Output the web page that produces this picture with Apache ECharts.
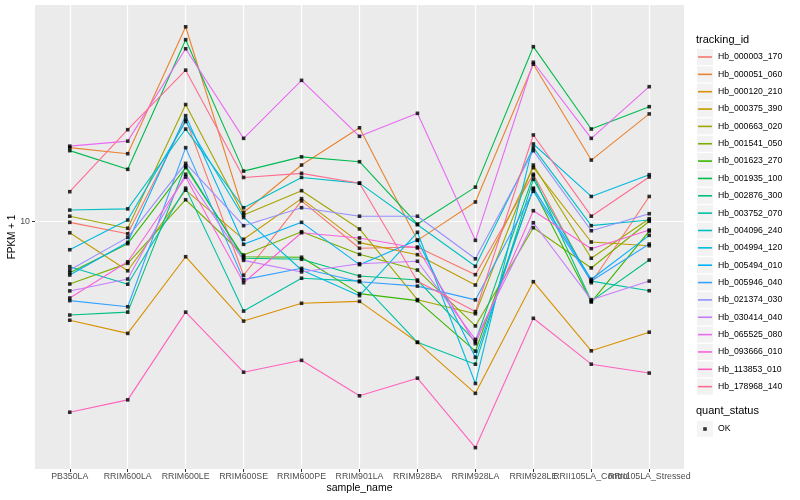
<!DOCTYPE html>
<html>
<head>
<meta charset="utf-8">
<script src="https://cdn.jsdelivr.net/npm/echarts@6/dist/echarts.min.js"></script>
<style>
html,body{margin:0;padding:0;background:#fff;}
#chart{width:800px;height:500px;}
</style>
</head>
<body>
<div id="chart"></div>
<script>
// ---- data (FPKM + 1, log10 axis) ----
const categories = ['PB350LA','RRIM600LA','RRIM600LE','RRIM600SE','RRIM600PE','RRIM901LA','RRIM928BA','RRIM928LA','RRIM928LE','RRII105LA_Control','RRII105LA_Stressed'];
const trackingIds = ['Hb_000003_170','Hb_000051_060','Hb_000120_210','Hb_000375_390','Hb_000663_020','Hb_001541_050','Hb_001623_270','Hb_001935_100','Hb_002876_300','Hb_003752_070','Hb_004096_240','Hb_004994_120','Hb_005494_010','Hb_005946_040','Hb_021374_030','Hb_030414_040','Hb_065525_080','Hb_093666_010','Hb_113853_010','Hb_178968_140'];
const lineColors = ['#F8766D','#EA8331','#D89000','#C09B00','#A3A500','#7CAE00','#39B600','#00BB4E','#00BF7D','#00C1A3','#00BFC4','#00BAE0','#00B0F6','#35A2FF','#9590FF','#C77CFF','#E76BF3','#FA62DB','#FF62BC','#FF6C91'];
const yTickValues = [10];
const quantStatus = ['OK'];

const Hb_000003_170 = [9.92, 9.09, 21.9, 6.61, 11.7, 8.13, 8.21, 6.64, 14.35, 6.24, 12.1];
const Hb_000051_060 = [17.6, 16.8, 44.5, 10.7, 15.4, 20.5, 8.64, 11.6, 33.4, 16.0, 22.8];
const Hb_000120_210 = [4.68, 4.23, 7.62, 4.65, 5.33, 5.41, 3.95, 2.67, 6.29, 3.70, 4.27];
const Hb_000375_390 = [9.16, 6.84, 12.7, 8.71, 11.9, 8.49, 7.74, 6.13, 15.1, 8.53, 8.29];
const Hb_000663_020 = [10.4, 9.48, 24.5, 10.5, 12.65, 9.43, 5.48, 4.92, 15.4, 7.53, 10.2];
const Hb_001541_050 = [6.18, 7.24, 11.8, 7.72, 9.23, 7.76, 6.88, 4.48, 9.52, 6.99, 10.0];
const Hb_001623_270 = [6.74, 8.42, 15.1, 7.62, 7.59, 5.74, 5.44, 3.69, 12.8, 5.38, 9.28];
const Hb_001935_100 = [17.2, 14.9, 40.3, 14.7, 16.4, 15.8, 9.79, 13.0, 38.2, 20.3, 24.1];
const Hb_002876_300 = [4.87, 4.98, 15.3, 7.53, 7.47, 6.57, 6.37, 3.97, 14.2, 5.42, 7.43];
const Hb_003752_070 = [7.06, 6.17, 12.9, 5.02, 6.46, 6.32, 3.95, 3.34, 13.8, 6.32, 5.87];
const Hb_004096_240 = [10.9, 11.0, 20.3, 11.1, 14.0, 13.4, 9.74, 7.08, 17.6, 9.67, 10.1];
const Hb_004994_120 = [8.04, 10.1, 21.5, 10.3, 6.88, 5.65, 9.19, 2.88, 18.1, 12.1, 14.3];
const Hb_005494_010 = [6.62, 8.51, 22.5, 8.38, 9.92, 7.17, 8.66, 3.52, 12.9, 6.41, 8.98];
const Hb_005946_040 = [5.44, 5.19, 17.6, 6.39, 6.97, 6.29, 6.08, 5.47, 12.6, 6.32, 8.40];
const Hb_021374_030 = [6.88, 8.84, 15.6, 9.67, 11.1, 10.4, 10.4, 7.50, 17.2, 9.30, 10.6];
const Hb_030414_040 = [5.86, 6.42, 14.35, 7.41, 6.78, 7.22, 7.36, 4.04, 9.89, 5.48, 6.32];
const Hb_065525_080 = [17.8, 18.5, 37.6, 18.9, 29.5, 19.2, 22.9, 8.64, 33.9, 18.9, 28.1];
const Hb_093666_010 = [5.55, 7.33, 14.05, 6.24, 9.16, 8.80, 8.15, 3.91, 10.85, 8.10, 9.35];
const Hb_113853_010 = [2.31, 2.54, 4.98, 3.14, 3.44, 2.62, 3.00, 1.76, 4.75, 3.34, 3.12];
const Hb_178968_140 = [12.55, 20.2, 31.9, 14.0, 14.45, 13.4, 6.31, 5.0, 19.4, 10.4, 14.05];

const seriesValues = [Hb_000003_170, Hb_000051_060, Hb_000120_210, Hb_000375_390, Hb_000663_020, Hb_001541_050, Hb_001623_270, Hb_001935_100, Hb_002876_300, Hb_003752_070, Hb_004096_240, Hb_004994_120, Hb_005494_010, Hb_005946_040, Hb_021374_030, Hb_030414_040, Hb_065525_080, Hb_093666_010, Hb_113853_010, Hb_178968_140];

// ---- chart ----
const FONT = "'Liberation Sans', Arial, Helvetica, sans-serif";
const catIndex = categories.map((c, i) => i + 1);
// labels are split over two axes so overlapping neighbours are all drawn (as in the reference)
const labelSetA = catIndex.filter((v, i) => i % 2 === 0);
const labelSetB = catIndex.filter((v, i) => i % 2 === 1);

const lineSeries = trackingIds.map((id, k) => ({
  type: 'line',
  name: id,
  color: lineColors[k],
  data: seriesValues[k].map((v, i) => [catIndex[i], v]),
  symbol: 'none',
  showSymbol: false,
  lineStyle: { width: 1.1, color: lineColors[k] },
  silent: true,
  z: 2
}));

const pointData = [];
seriesValues.forEach(arr => arr.forEach((v, i) => pointData.push([catIndex[i], v])));

const pointSeries = {
  type: 'scatter',
  name: quantStatus[0],
  data: pointData,
  symbol: 'rect',
  symbolSize: 3.6,
  itemStyle: { color: '#000000' },
  silent: true,
  z: 4
};

const lineIcon = 'path://M0,0L0,0M0,16L0,16M0,7.2L14,7.2L14,8.8L0,8.8Z';
const dotIcon = 'path://M0,0L0,0M16,16L16,16M6.2,6.2L9.8,6.2L9.8,9.8L6.2,9.8Z';

const xLabelStyle = {
  formatter: v => categories[Math.round(v) - 1] || '',
  hideOverlap: false,
  fontFamily: FONT, fontSize: 8.8, color: '#4D4D4D', margin: 3
};

const chart = echarts.init(document.getElementById('chart'), null, { renderer: 'canvas' });
chart.setOption({
  animation: false,
  backgroundColor: '#ffffff',
  textStyle: { fontFamily: FONT },
  title: [
    { text: 'tracking_id', left: 696, top: 34, padding: 0,
      textStyle: { fontFamily: FONT, fontSize: 11, fontWeight: 'normal', color: '#000000' } },
    { text: 'quant_status', left: 696, top: 405, padding: 0,
      textStyle: { fontFamily: FONT, fontSize: 11, fontWeight: 'normal', color: '#000000' } }
  ],
  legend: [
    { // grey key boxes + labels
      data: trackingIds, orient: 'vertical', left: 697, top: 49, padding: 0,
      itemWidth: 16, itemHeight: 16, itemGap: 1.35, icon: 'rect',
      itemStyle: { color: '#F2F2F2', borderWidth: 0 },
      selectedMode: false, z: 3,
      textStyle: { fontFamily: FONT, fontSize: 8.7, color: '#000000' }
    },
    { // coloured line inside each key
      data: trackingIds, orient: 'vertical', left: 698, top: 49, padding: 0,
      itemWidth: 14, itemHeight: 16, itemGap: 1.35, icon: lineIcon,
      selectedMode: false, z: 4, formatter: () => '',
      textStyle: { fontSize: 8 }
    },
    { // quant_status grey box + label
      data: quantStatus, orient: 'vertical', left: 697, top: 421, padding: 0,
      itemWidth: 16, itemHeight: 16, icon: 'rect',
      itemStyle: { color: '#F2F2F2', borderWidth: 0 },
      selectedMode: false, z: 3,
      textStyle: { fontFamily: FONT, fontSize: 8.7, color: '#000000' }
    },
    { // black point inside key
      data: quantStatus, orient: 'vertical', left: 697, top: 421, padding: 0,
      itemWidth: 16, itemHeight: 16, icon: dotIcon,
      selectedMode: false, z: 4, formatter: () => '',
      textStyle: { fontSize: 8 }
    }
  ],
  grid: {
    left: 35, right: 116, top: 5, bottom: 31,
    show: true, backgroundColor: '#EBEBEB', borderWidth: 0,
    containLabel: false,
    outerBoundsMode: 'none'
  },
  xAxis: [
    {
      type: 'value', position: 'bottom',
      min: 0.4, max: 11.6,
      axisLine: { show: false },
      axisTick: { show: true, customValues: catIndex, length: 3, lineStyle: { color: '#333333', width: 1 } },
      axisLabel: Object.assign({ customValues: labelSetA }, xLabelStyle),
      splitLine: { show: true, lineStyle: { color: '#FFFFFF', width: 1.2 } },
      name: 'sample_name', nameLocation: 'middle', nameGap: 14, nameMoveOverlap: false,
      nameTextStyle: { fontFamily: FONT, fontSize: 10.5, color: '#000000' }
    },
    {
      type: 'value', position: 'bottom', offset: 0,
      min: 0.4, max: 11.6,
      axisLine: { show: false },
      axisTick: { show: false },
      axisLabel: Object.assign({ customValues: labelSetB }, xLabelStyle),
      splitLine: { show: false }
    }
  ],
  yAxis: {
    type: 'log', logBase: 10,
    min: 1.494, max: 52.6,
    axisLine: { show: false },
    axisTick: { show: true, customValues: yTickValues, length: 3, lineStyle: { color: '#333333', width: 1 } },
    axisLabel: {
      customValues: yTickValues,
      formatter: v => String(Math.round(v)),
      fontFamily: FONT, fontSize: 8.8, color: '#4D4D4D', margin: 5
    },
    splitLine: { show: true, lineStyle: { color: '#FFFFFF', width: 1.2 } },
    minorSplitLine: { show: false },
    name: 'FPKM + 1', nameLocation: 'middle', nameGap: 18, nameMoveOverlap: false,
    nameTextStyle: { fontFamily: FONT, fontSize: 10, color: '#000000' }
  },
  series: lineSeries.concat([pointSeries])
});
</script>
</body>
</html>
